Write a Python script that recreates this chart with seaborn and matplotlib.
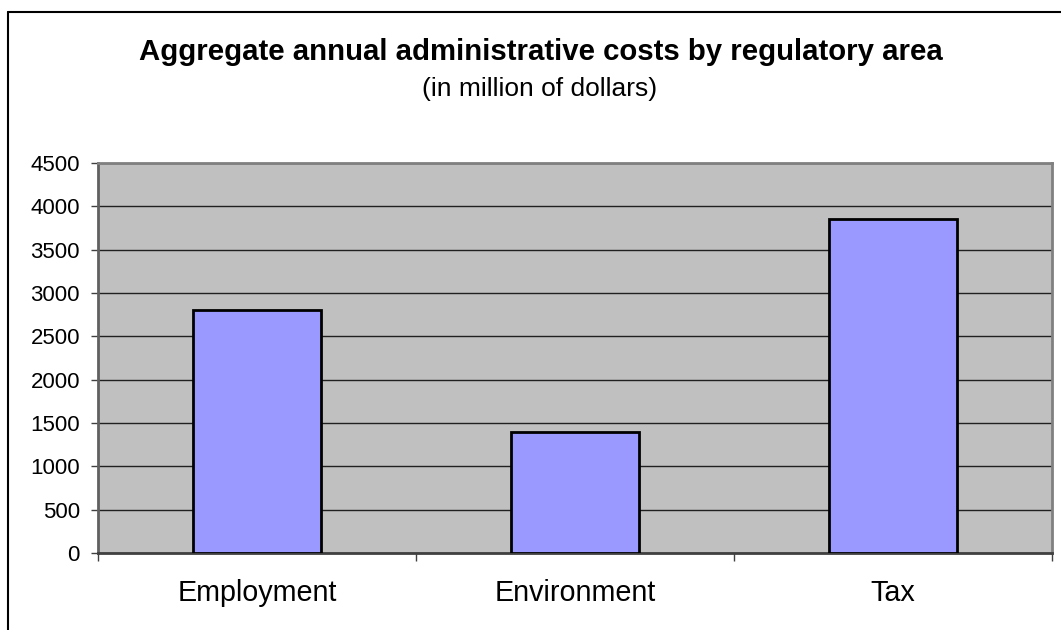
import matplotlib
matplotlib.use("Agg")
import matplotlib.pyplot as plt
import seaborn as sns
from matplotlib.lines import Line2D
from matplotlib.ticker import FixedLocator

categories = ["Employment", "Environment", "Tax"]
values = [2800, 1400, 3850]
y_ticks = [0, 500, 1000, 1500, 2000, 2500, 3000, 3500, 4000, 4500]
title = "Aggregate annual administrative costs by regulatory area"
subtitle = "(in million of dollars)"

sns.set_theme(style="white")
plt.rcParams["font.family"] = ["Liberation Sans", "DejaVu Sans"]
plt.rcParams["text.color"] = "black"
plt.rcParams["xtick.labelcolor"] = "black"
plt.rcParams["ytick.labelcolor"] = "black"

W, H = 1061, 630
fig = plt.figure(figsize=(W / 100, H / 100), dpi=100)
ax = fig.add_axes([98 / W, 1 - 553 / H, (1052 - 98) / W, (553 - 163) / H])
ax.set_facecolor("#C0C0C0")

sns.barplot(x=categories, y=values, ax=ax, width=0.4, color="#9999FF",
            saturation=1, edgecolor="black", linewidth=2.0, zorder=3)

ax.set_xlim(-0.5, 2.5)
ax.set_ylim(0, 4500)
ax.set_yticks(y_ticks)
ax.set_yticklabels([str(t) for t in y_ticks], fontsize=16, color="black")
ax.yaxis.grid(True, color="#202020", linewidth=1.0, zorder=1)
ax.xaxis.grid(False)
ax.set_axisbelow(True)
ax.set_xlabel("")
ax.set_ylabel("")

ax.tick_params(axis="y", which="major", direction="out", length=5, width=1,
               color="#404040", pad=8, left=True)
ax.tick_params(axis="x", which="major", length=0, labelsize=20.7, pad=19,
               labelcolor="black")
ax.xaxis.set_minor_locator(FixedLocator([-0.5, 0.5, 1.5, 2.5]))
ax.tick_params(axis="x", which="minor", direction="out", length=6, width=1,
               color="#404040", bottom=True)

for side in ["top", "right"]:
    ax.spines[side].set_color("#808080")
    ax.spines[side].set_linewidth(2)
ax.spines["left"].set_color("#606060")
ax.spines["left"].set_linewidth(2)
ax.spines["bottom"].set_color("#404040")
ax.spines["bottom"].set_linewidth(2)

fig.text(541 / W, 1 - 60 / H, title, ha="center", va="baseline",
         fontsize=21.2, fontweight="bold", color="black")
fig.text(540 / W, 1 - 96 / H, subtitle, ha="center", va="baseline",
         fontsize=19, color="black")

# outer chart frame (top and left edges visible)
fig.add_artist(Line2D([8 / W, 1.0], [1 - 12 / H, 1 - 12 / H],
                      transform=fig.transFigure, color="black", linewidth=1.5))
fig.add_artist(Line2D([8 / W, 8 / W], [0.0, 1 - 12 / H],
                      transform=fig.transFigure, color="black", linewidth=1.5))

fig.savefig("out.png", dpi=100)
